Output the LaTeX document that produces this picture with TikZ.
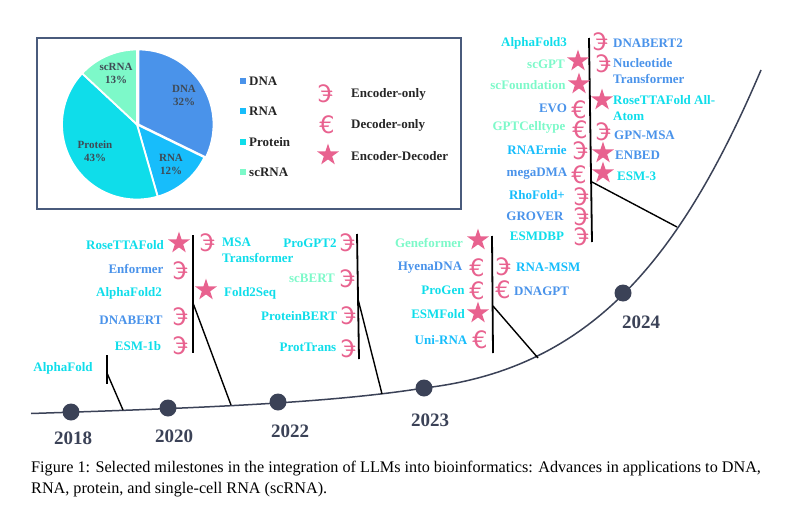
\documentclass[tikz,border=0pt]{standalone}
\usepackage{fontspec}
\setmainfont{Liberation Serif}
\newfontfamily\symfont{DejaVu Sans}
\usetikzlibrary{shapes.geometric}
\usetikzlibrary{calc}
\definecolor{dnacol}{HTML}{4A93EA}
\definecolor{rnacol}{HTML}{17BDFB}
\definecolor{protcol}{HTML}{0FDDEA}
\definecolor{sccol}{HTML}{7DF9C9}
\definecolor{pinkcol}{HTML}{E8628F}
\definecolor{darkcol}{HTML}{3B4257}
\definecolor{boxcol}{HTML}{4A5B7C}
\definecolor{piecol}{HTML}{3F4A55}
\tikzset{lbl/.style={inner sep=0pt,font=\bfseries\fontsize{13}{16}\selectfont,align=left}}
\tikzset{dna/.style={lbl,text=dnacol}}
\tikzset{rna/.style={lbl,text=rnacol}}
\tikzset{prot/.style={lbl,text=protcol}}
\tikzset{scr/.style={lbl,text=sccol}}
\tikzset{dec/.style={inner sep=0pt,text=pinkcol,font=\symfont\fontsize{24}{24}\selectfont}}
\tikzset{enc/.style={dec,xscale=-1}}
\tikzset{encdec/.style={star,star points=5,star point ratio=2.618,minimum size=23pt,inner sep=0pt,fill=pinkcol}}
\tikzset{year/.style={inner sep=0pt,text=darkcol,font=\bfseries\fontsize{19}{19}\selectfont}}
\tikzset{dot/.style={circle,inner sep=0pt,minimum size=17pt,fill=darkcol}}
\tikzset{stem/.style={black,line width=1.8pt}}
\tikzset{branch/.style={black,line width=1.4pt}}
\tikzset{slice/.style={draw=white,line width=1.8pt}}
\tikzset{swatch/.style={inner sep=0pt,minimum size=6pt}}
\tikzset{pielbl/.style={inner sep=0pt,text=piecol,align=center,font=\bfseries\fontsize{11}{13}\selectfont}}
\tikzset{leg/.style={lbl,text=black!85}}

\begin{document}
\begin{tikzpicture}[x=1pt,y=1pt]
                    \useasboundingbox (0,0) rectangle (790,-514);

                    \node[draw=boxcol,line width=1.5pt,inner sep=0pt,minimum width=424pt,minimum height=171pt] (box) at (249,-123.5) {};
                    \coordinate (pie) at (137,-124.5);
                    \fill[slice,fill=dnacol] ($(pie)+(1.5,0)$) -- ++(90:75) arc (90:-26:75) -- cycle;
                    \fill[slice,fill=rnacol] (pie) -- ++(-26:75) arc (-26:-74:75) -- cycle;
                    \fill[slice,fill=protcol] (pie) -- ++(-74:75) arc (-74:-223:75) -- cycle;
                    \fill[slice,fill=sccol] (pie) -- ++(137:75) arc (137:90:75) -- cycle;
                    \node[pielbl] (pdna) at (184,-95.5) {DNA\\32\%};
                    \node[pielbl] (prna) at (171,-164.5) {RNA\\12\%};
                    \node[pielbl] (pprot) at (95,-151) {Protein\\43\%};
                    \node[pielbl] (pscr) at (116,-73.5) {scRNA\\13\%};

                    \node[swatch,fill=dnacol] (sdna) at (243,-81) {};
                    \node[swatch,fill=rnacol] (srna) at (243,-111) {};
                    \node[swatch,fill=protcol] (sprot) at (243,-142) {};
                    \node[swatch,fill=sccol] (sscr) at (243,-172) {};
                    \node[leg,anchor=west] (ldna) at (249,-81) {DNA};
                    \node[leg,anchor=west] (lrna) at (249,-111) {RNA};
                    \node[leg,anchor=west] (lprot) at (249,-142) {Protein};
                    \node[leg,anchor=west] (lscr) at (249,-172) {scRNA};
                    \node[enc] (kenc) at (325,-94) {€};
                    \node[dec] (kdec) at (327,-125) {€};
                    \node[encdec] (kboth) at (328,-155) {};
                    \node[leg,anchor=west] (lenc) at (351,-94) {Encoder-only};
                    \node[leg,anchor=west] (ldec) at (351,-125) {Decoder-only};
                    \node[leg,anchor=west] (lboth) at (351,-156) {Encoder-Decoder};

                    \node[dot] (y18) at (71,-412) {};
                    \node[dot] (y20) at (168,-408) {};
                    \node[dot] (y22) at (278,-402) {};
                    \node[dot] (y23) at (424,-388) {};
                    \node[dot] (y24) at (623,-293) {};
                    \coordinate (t0) at (31,-413.5);
                    \coordinate (t1) at (123,-410);
                    \coordinate (t2) at (231,-405);
                    \coordinate (t3) at (382,-394);
                    \coordinate (t4) at (538,-358);
                    \coordinate (t5) at (677,-227);
                    \coordinate (t6) at (761,-70);
                    \draw[darkcol,line width=1.5pt] (t0) .. controls (200,-408) and (330,-403) .. (y23.center) .. controls (590,-369) and (680,-260) .. (t6);
                    \node[year] (n18) at (73,-438) {2018};
                    \node[year] (n20) at (174,-436) {2020};
                    \node[year] (n22) at (290,-431) {2022};
                    \node[year] (n23) at (430,-420) {2023};
                    \node[year] (n24) at (641,-322) {2024};

                    \coordinate (a1) at (107,-355);
                    \coordinate (a2) at (107,-384);
                    \coordinate (a3) at (107,-373);
                    \draw[stem] (a1) -- (a2);
                    \draw[branch] (a3) -- (t1);
                    \coordinate (b1) at (193,-235);
                    \coordinate (b2) at (193,-353);
                    \coordinate (b3) at (193,-303);
                    \draw[stem] (b1) -- (b2);
                    \draw[branch] (b3) -- (t2);
                    \coordinate (c1) at (357,-234);
                    \coordinate (c2) at (359,-359);
                    \coordinate (c3) at (358,-299);
                    \draw[stem] (c1) -- (c2);
                    \draw[branch] (c3) -- (t3);
                    \coordinate (d1) at (492,-236);
                    \coordinate (d2) at (493,-353);
                    \coordinate (d3) at (493,-306);
                    \draw[stem] (d1) -- (d2);
                    \draw[branch] (d3) -- (t4);
                    \coordinate (e1) at (589,-38);
                    \coordinate (e2) at (592,-242);
                    \coordinate (e3) at (592,-182);
                    \draw[stem] (e1) -- (e2);
                    \draw[branch] (e3) -- (t5);

                    \node[prot] (af1) at (63,-368) {AlphaFold};

                    \node[prot] (rtf) at (125,-245) {RoseTTAFold};
                    \node[dna] (enf) at (136,-269) {Enformer};
                    \node[prot] (af2) at (129,-293) {AlphaFold2};
                    \node[dna] (dnb) at (131,-320) {DNABERT};
                    \node[prot] (esm1) at (138,-346) {ESM-1b};
                    \node[encdec] (rtfi) at (179,-243) {};
                    \node[enc] (enfi) at (180,-271) {€};
                    \node[enc] (dnbi) at (180,-317) {€};
                    \node[enc] (esm1i) at (180,-346) {€};
                    \node[enc] (msai) at (207,-243) {€};
                    \node[encdec] (f2si) at (206,-290) {};
                    \node[prot,anchor=west] (msa) at (222,-250) {MSA\\Transformer};
                    \node[prot,anchor=west] (f2s) at (224,-293) {Fold2Seq};

                    \node[prot] (pg2) at (310,-243) {ProGPT2};
                    \node[scr] (scb) at (312,-278) {scBERT};
                    \node[prot] (prb) at (299,-316) {ProteinBERT};
                    \node[prot] (prt) at (308,-347) {ProtTrans};
                    \node[enc] (pg2i) at (347,-243) {€};
                    \node[enc] (scbi) at (347,-279) {€};
                    \node[enc] (prbi) at (348,-316) {€};
                    \node[enc] (prti) at (348,-349) {€};

                    \node[scr] (gen) at (429,-243) {Geneformer};
                    \node[dna] (hye) at (430,-268) {HyenaDNA};
                    \node[prot] (pgn) at (443,-290) {ProGen};
                    \node[prot] (esf) at (438,-314) {ESMFold};
                    \node[rna] (uni) at (441,-340) {Uni-RNA};
                    \node[encdec] (geni) at (478,-240) {};
                    \node[dec] (hyei) at (477,-268) {€};
                    \node[dec] (pgni) at (477,-291) {€};
                    \node[encdec] (esfi) at (478,-313) {};
                    \node[dec] (unii) at (480,-340) {€};
                    \node[enc] (msmi) at (503,-267) {€};
                    \node[dec] (dgpi) at (503,-290) {€};
                    \node[rna,anchor=west] (msm) at (516,-267) {RNA-MSM};
                    \node[dna,anchor=west] (dgp) at (514,-291) {DNAGPT};

                    \node[prot] (af3) at (534,-43) {AlphaFold3};
                    \node[scr] (sgp) at (546,-64) {scGPT};
                    \node[scr] (sfo) at (528,-85) {scFoundation};
                    \node[dna] (evo) at (553,-108) {EVO};
                    \node[scr] (gct) at (529,-127) {GPTCelltype};
                    \node[rna] (rne) at (537,-150) {RNAErnie};
                    \node[dna] (meg) at (537,-174) {megaDMA};
                    \node[rna] (rho) at (537,-195) {RhoFold+};
                    \node[dna] (gro) at (535,-216) {GROVER};
                    \node[prot] (edb) at (537,-236) {ESMDBP};
                    \node[encdec] (sgpi) at (578,-61) {};
                    \node[encdec] (sfoi) at (579,-84) {};
                    \node[dec] (evoi) at (579,-110) {€};
                    \node[dec] (gcti) at (580,-130) {€};
                    \node[enc] (rnei) at (580,-151) {€};
                    \node[dec] (megi) at (579,-175) {€};
                    \node[enc] (rhoi) at (581,-197) {€};
                    \node[enc] (groi) at (581,-217) {€};
                    \node[enc] (edbi) at (581,-237) {€};

                    \node[enc] (db2i) at (600,-42) {€};
                    \node[enc] (nuci) at (603,-64) {€};
                    \node[encdec] (rosi) at (602,-100) {};
                    \node[enc] (gpni) at (603,-132) {€};
                    \node[encdec] (enbi) at (603,-153) {};
                    \node[encdec] (esm3i) at (603,-173) {};
                    \node[dna,anchor=west] (db2) at (613,-43) {DNABERT2};
                    \node[dna,anchor=west] (nuc) at (613,-71) {Nucleotide\\Transformer};
                    \node[prot,anchor=west] (ros) at (613,-108) {RoseTTAFold All-\\Atom};
                    \node[dna,anchor=west] (gpn) at (614,-135) {GPN-MSA};
                    \node[dna,anchor=west] (enb) at (615,-155) {ENBED};
                    \node[prot,anchor=west] (esm3) at (617,-176) {ESM-3};

                    \node[inner sep=0pt,anchor=north west,align=left,font=\fontsize{16.2}{21}\selectfont] (cap) at (31,-461) {Figure 1: Selected milestones in the integration of LLMs into bioinformatics: Advances in applications to DNA,\\RNA, protein, and single-cell RNA (scRNA).};
                \end{tikzpicture}
\end{document}
